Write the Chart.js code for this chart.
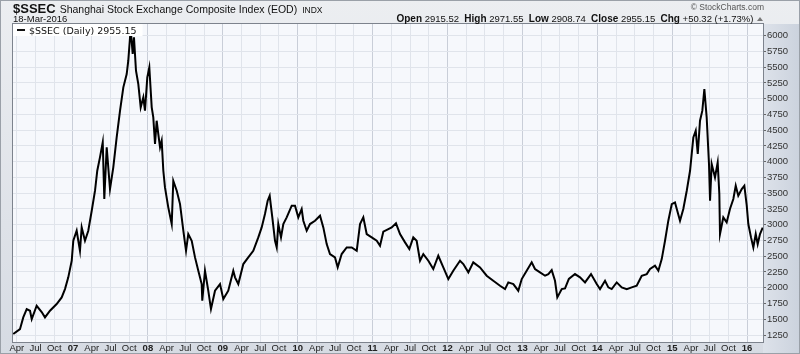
<!DOCTYPE html>
<html lang="en">
<head>
    <meta charset="UTF-8">
    <title>$SSEC Shanghai Stock Exchange Composite Index</title>
    <script src="https://cdn.jsdelivr.net/npm/chart.js"></script>
    <style>
        html, body { margin: 0; padding: 0; background: #e4e7ec; }
        #wrap { position: relative; width: 800px; height: 354px; }
    </style>
</head>
<body>
<div id="wrap"><canvas id="chart" width="800" height="354"></canvas></div>
<script>
// dates as decimal years, closes
const dates = [
    2006.203, 2006.292, 2006.336, 2006.382, 2006.426, 2006.449, 2006.515, 2006.582, 2006.626, 2006.693,
    2006.782, 2006.849, 2006.893, 2006.937, 2006.983, 2007.004, 2007.049, 2007.093, 2007.116, 2007.160,
    2007.204, 2007.250, 2007.294, 2007.324, 2007.360, 2007.397, 2007.418, 2007.450, 2007.494, 2007.538,
    2007.583, 2007.628, 2007.672, 2007.717, 2007.738, 2007.770, 2007.797, 2007.814, 2007.841, 2007.872,
    2007.904, 2007.939, 2007.961, 2007.992, 2008.019, 2008.051, 2008.072, 2008.095, 2008.117, 2008.139,
    2008.162, 2008.184, 2008.206, 2008.228, 2008.272, 2008.318, 2008.339, 2008.385, 2008.429, 2008.473,
    2008.509, 2008.539, 2008.585, 2008.629, 2008.673, 2008.718, 2008.726, 2008.762, 2008.806, 2008.842,
    2008.896, 2008.963, 2009.007, 2009.073, 2009.140, 2009.163, 2009.207, 2009.274, 2009.340, 2009.407,
    2009.474, 2009.519, 2009.563, 2009.599, 2009.626, 2009.661, 2009.697, 2009.720, 2009.741, 2009.777,
    2009.808, 2009.853, 2009.920, 2009.964, 2010.008, 2010.053, 2010.075, 2010.120, 2010.164, 2010.231,
    2010.298, 2010.342, 2010.387, 2010.431, 2010.498, 2010.534, 2010.587, 2010.654, 2010.721, 2010.788,
    2010.832, 2010.876, 2010.921, 2010.988, 2011.055, 2011.099, 2011.143, 2011.210, 2011.255, 2011.312,
    2011.366, 2011.433, 2011.490, 2011.543, 2011.588, 2011.633, 2011.677, 2011.744, 2011.810, 2011.877,
    2011.944, 2012.011, 2012.077, 2012.167, 2012.211, 2012.278, 2012.344, 2012.434, 2012.523, 2012.611,
    2012.701, 2012.768, 2012.812, 2012.879, 2012.945, 2012.991, 2013.057, 2013.124, 2013.168, 2013.235,
    2013.302, 2013.346, 2013.391, 2013.435, 2013.466, 2013.525, 2013.569, 2013.620, 2013.702, 2013.769,
    2013.836, 2013.916, 2013.992, 2014.036, 2014.103, 2014.147, 2014.192, 2014.259, 2014.326, 2014.393,
    2014.459, 2014.526, 2014.593, 2014.660, 2014.704, 2014.770, 2014.815, 2014.860, 2014.904, 2014.948,
    2014.994, 2015.037, 2015.104, 2015.148, 2015.194, 2015.238, 2015.282, 2015.314, 2015.341, 2015.371,
    2015.402, 2015.429, 2015.460, 2015.491, 2015.505, 2015.527, 2015.571, 2015.607, 2015.629, 2015.638,
    2015.682, 2015.727, 2015.771, 2015.816, 2015.848, 2015.882, 2015.928, 2015.963, 2015.995, 2016.016,
    2016.052, 2016.083, 2016.115, 2016.141, 2016.172, 2016.208
];
const closes = [
    1265, 1343, 1530, 1662, 1635, 1503, 1714, 1614, 1530, 1635,
    1741, 1847, 1979, 2165, 2429, 2746, 2905, 2587, 2958, 2746,
    2905, 3222, 3540, 3857, 4070, 4308, 3408, 4229, 3567, 3911,
    4387, 4810, 5181, 5392, 5603, 6106, 5710, 5975, 5445, 5233,
    4863, 5022, 4810, 5339, 5498, 4863, 4705, 4281, 4651, 4440,
    4229, 4334, 3857, 3593, 3276, 3011, 3698, 3540, 3328, 2905,
    2587, 2852, 2746, 2482, 2270, 2059, 1794, 2270, 1953, 1662,
    1953, 2059, 1820, 1953, 2270, 2165, 2059, 2376, 2482, 2587,
    2799, 2958, 3170, 3381, 3460, 3117, 2746, 2640, 3011, 2799,
    3011, 3117, 3302, 3302, 3117, 3249, 3064, 2905, 3011, 3064,
    3143, 2958, 2693, 2535, 2482, 2323, 2535, 2640, 2640, 2587,
    3011, 3117, 2852, 2799, 2746, 2667, 2890, 2931, 2958, 3022,
    2852, 2720, 2614, 2799, 2746, 2429, 2535, 2429, 2297, 2508,
    2323, 2138, 2270, 2429, 2376, 2244, 2403, 2323, 2191, 2111,
    2032, 1979, 2085, 2059, 1953, 2138, 2270, 2403, 2297, 2244,
    2191, 2217, 2280, 2111, 1847, 1979, 1990, 2140, 2217, 2165,
    2085, 2217, 2059, 1979, 2111, 2006, 1979, 2085, 2006, 1979,
    2006, 2032, 2191, 2217, 2297, 2350, 2270, 2455, 2746, 3064,
    3328, 3355, 3064, 3249, 3540, 3857, 4387, 4493, 4123, 4651,
    4810, 5154, 4705, 3963, 3381, 3963, 3751, 3990, 3487, 2852,
    3117, 3037, 3249, 3408, 3619, 3460, 3567, 3619, 3302, 3011,
    2799, 2640, 2852, 2693, 2852, 2955
];

// x ticks: quarter starts, year starts shown bold as two digits
const xTickValues = [];
for (let y = 2006; y <= 2016; y++) {
    [0, 0.25, 0.5, 0.75].forEach(q => xTickValues.push(y + q));
}
const monthNames = ['Apr', 'Jul', 'Oct'];
const yTickValues = [1250, 1500, 1750, 2000, 2250, 2500, 2750, 3000, 3250, 3500,
    3750, 4000, 4250, 4500, 4750, 5000, 5250, 5500, 5750, 6000];

const PLOT = { left: 13, right: 763, top: 24, bottom: 342 };

function isYear(v) { return Math.abs(v - Math.round(v)) < 0.001; }

const frame = {
    id: 'frame',
    beforeDraw(chart) {
        const c = chart.ctx, a = chart.chartArea;
        c.save();
        const g = c.createLinearGradient(0, 0, 0, 354);
        g.addColorStop(0, '#eceef1');
        g.addColorStop(1, '#d6dbe3');
        c.fillStyle = g;
        c.fillRect(0, 0, 800, 354);
        const g2 = c.createLinearGradient(a.right, 0, 800, 0);
        g2.addColorStop(0, '#dde2ea');
        g2.addColorStop(1, '#cbd2dd');
        c.fillStyle = g2;
        c.fillRect(a.right, a.top, 800 - a.right, 354 - a.top);
        c.fillStyle = '#f6f8fc';
        c.fillRect(a.left, a.top, a.right - a.left, a.bottom - a.top);
        c.restore();
    },
    afterDraw(chart) {
        const c = chart.ctx, a = chart.chartArea;
        c.save();
        c.strokeStyle = '#7d838d';
        c.lineWidth = 1;
        c.strokeRect(a.left - 0.5, a.top - 0.5, a.right - a.left + 1, a.bottom - a.top + 1);
        c.strokeStyle = '#9aa0a8';
        c.strokeRect(0.5, 0.5, 799, 353);

        // header left
        c.fillStyle = '#111';
        c.textBaseline = 'alphabetic';
        c.font = 'bold 13px "Liberation Sans", Arial, sans-serif';
        c.fillText('$SSEC', 13, 13);
        let x = 13 + c.measureText('$SSEC').width + 4;
        c.font = '10.5px "Liberation Sans", Arial, sans-serif';
        const t = 'Shanghai Stock Exchange Composite Index (EOD)';
        c.fillText(t, x, 13);
        x += c.measureText(t).width + 5;
        c.font = '8.5px "Liberation Sans", Arial, sans-serif';
        c.fillText('INDX', x, 13);
        c.font = '9.5px "Liberation Sans", Arial, sans-serif';
        c.fillText('18-Mar-2016', 13, 22);

        // header right
        c.fillStyle = '#555';
        c.font = '8.5px "Liberation Sans", Arial, sans-serif';
        c.textAlign = 'right';
        c.fillText('\u00a9 StockCharts.com', 764, 10);
        c.textAlign = 'left';
        const parts = [
            ['Open', true], [' 2915.52  ', false], ['High', true], [' 2971.55  ', false],
            ['Low', true], [' 2908.74  ', false], ['Close', true], [' 2955.15  ', false],
            ['Chg', true], [' +50.32 (+1.73%) ', false]
        ];
        const bold = 'bold 10px "Liberation Sans", Arial, sans-serif';
        const norm = '9.5px "Liberation Sans", Arial, sans-serif';
        let w = 0;
        parts.forEach(p => { c.font = p[1] ? bold : norm; w += c.measureText(p[0]).width; });
        x = 756 - w;
        c.fillStyle = '#111';
        parts.forEach(p => {
            c.font = p[1] ? bold : norm;
            c.fillText(p[0], x, 22);
            x += c.measureText(p[0]).width;
        });
        c.fillStyle = '#777';
        c.beginPath();
        c.moveTo(x + 1, 21); c.lineTo(x + 7, 21); c.lineTo(x + 4, 17); c.closePath();
        c.fill();

        // legend box inside plot
        c.font = '9.5px "DejaVu Sans", Verdana, sans-serif';
        const leg = '$SSEC (Daily) 2955.15';
        const lw = c.measureText(leg).width;
        c.fillStyle = '#ffffff';
        c.fillRect(a.left, a.top, lw + 22, 12);
        c.strokeStyle = '#111';
        c.lineWidth = 2;
        c.beginPath(); c.moveTo(a.left + 4, a.top + 6); c.lineTo(a.left + 12, a.top + 6); c.stroke();
        c.fillStyle = '#111';
        c.fillText(leg, a.left + 16, a.top + 10);
        c.restore();
    }
};

new Chart(document.getElementById('chart'), {
    type: 'line',
    data: {
        datasets: [{
            label: '$SSEC (Daily)',
            data: dates.map((d, i) => ({ x: d, y: closes[i] })),
            borderColor: '#000',
            borderWidth: 2,
            pointRadius: 0,
            tension: 0,
            fill: false
        }]
    },
    options: {
        responsive: false,
        animation: false,
        devicePixelRatio: 1,
        layout: { padding: { left: PLOT.left, top: PLOT.top, right: 0, bottom: 0 } },
        plugins: { legend: { display: false }, tooltip: { enabled: false } },
        scales: {
            x: {
                type: 'linear',
                min: 2006.199,
                max: 2016.212,
                afterBuildTicks: s => { s.ticks = xTickValues.filter(v => v >= s.min && v <= s.max).map(v => ({ value: v })); },
                afterFit: s => { s.height = 354 - PLOT.bottom; },
                grid: {
                    color: c => (c.tick && isYear(c.tick.value)) ? '#c9ced8' : '#e0e4eb',
                    drawTicks: false
                },
                border: { display: false },
                ticks: {
                    autoSkip: false,
                    maxRotation: 0,
                    padding: 1,
                    color: '#222',
                    font: c => ({
                        family: '"Liberation Sans", Arial, sans-serif',
                        size: 9.5,
                        weight: (c.tick && isYear(c.tick.value)) ? 'bold' : 'normal'
                    }),
                    callback: v => {
                        if (isYear(v)) return String(Math.round(v) % 100).padStart(2, '0');
                        return monthNames[Math.round((v - Math.floor(v)) * 4) - 1];
                    }
                }
            },
            y: {
                position: 'right',
                min: 1139,
                max: 6186,
                afterBuildTicks: s => { s.ticks = yTickValues.map(v => ({ value: v })); },
                afterFit: s => { s.width = 800 - PLOT.right; },
                grid: { color: '#e0e4eb', tickLength: 3, tickColor: '#666' },
                border: { display: false },
                ticks: {
                    padding: 1,
                    color: '#333',
                    font: { family: '"Liberation Sans", Arial, sans-serif', size: 9.5 },
                    callback: v => String(v)
                }
            }
        }
    },
    plugins: [frame]
});
</script>
</body>
</html>
